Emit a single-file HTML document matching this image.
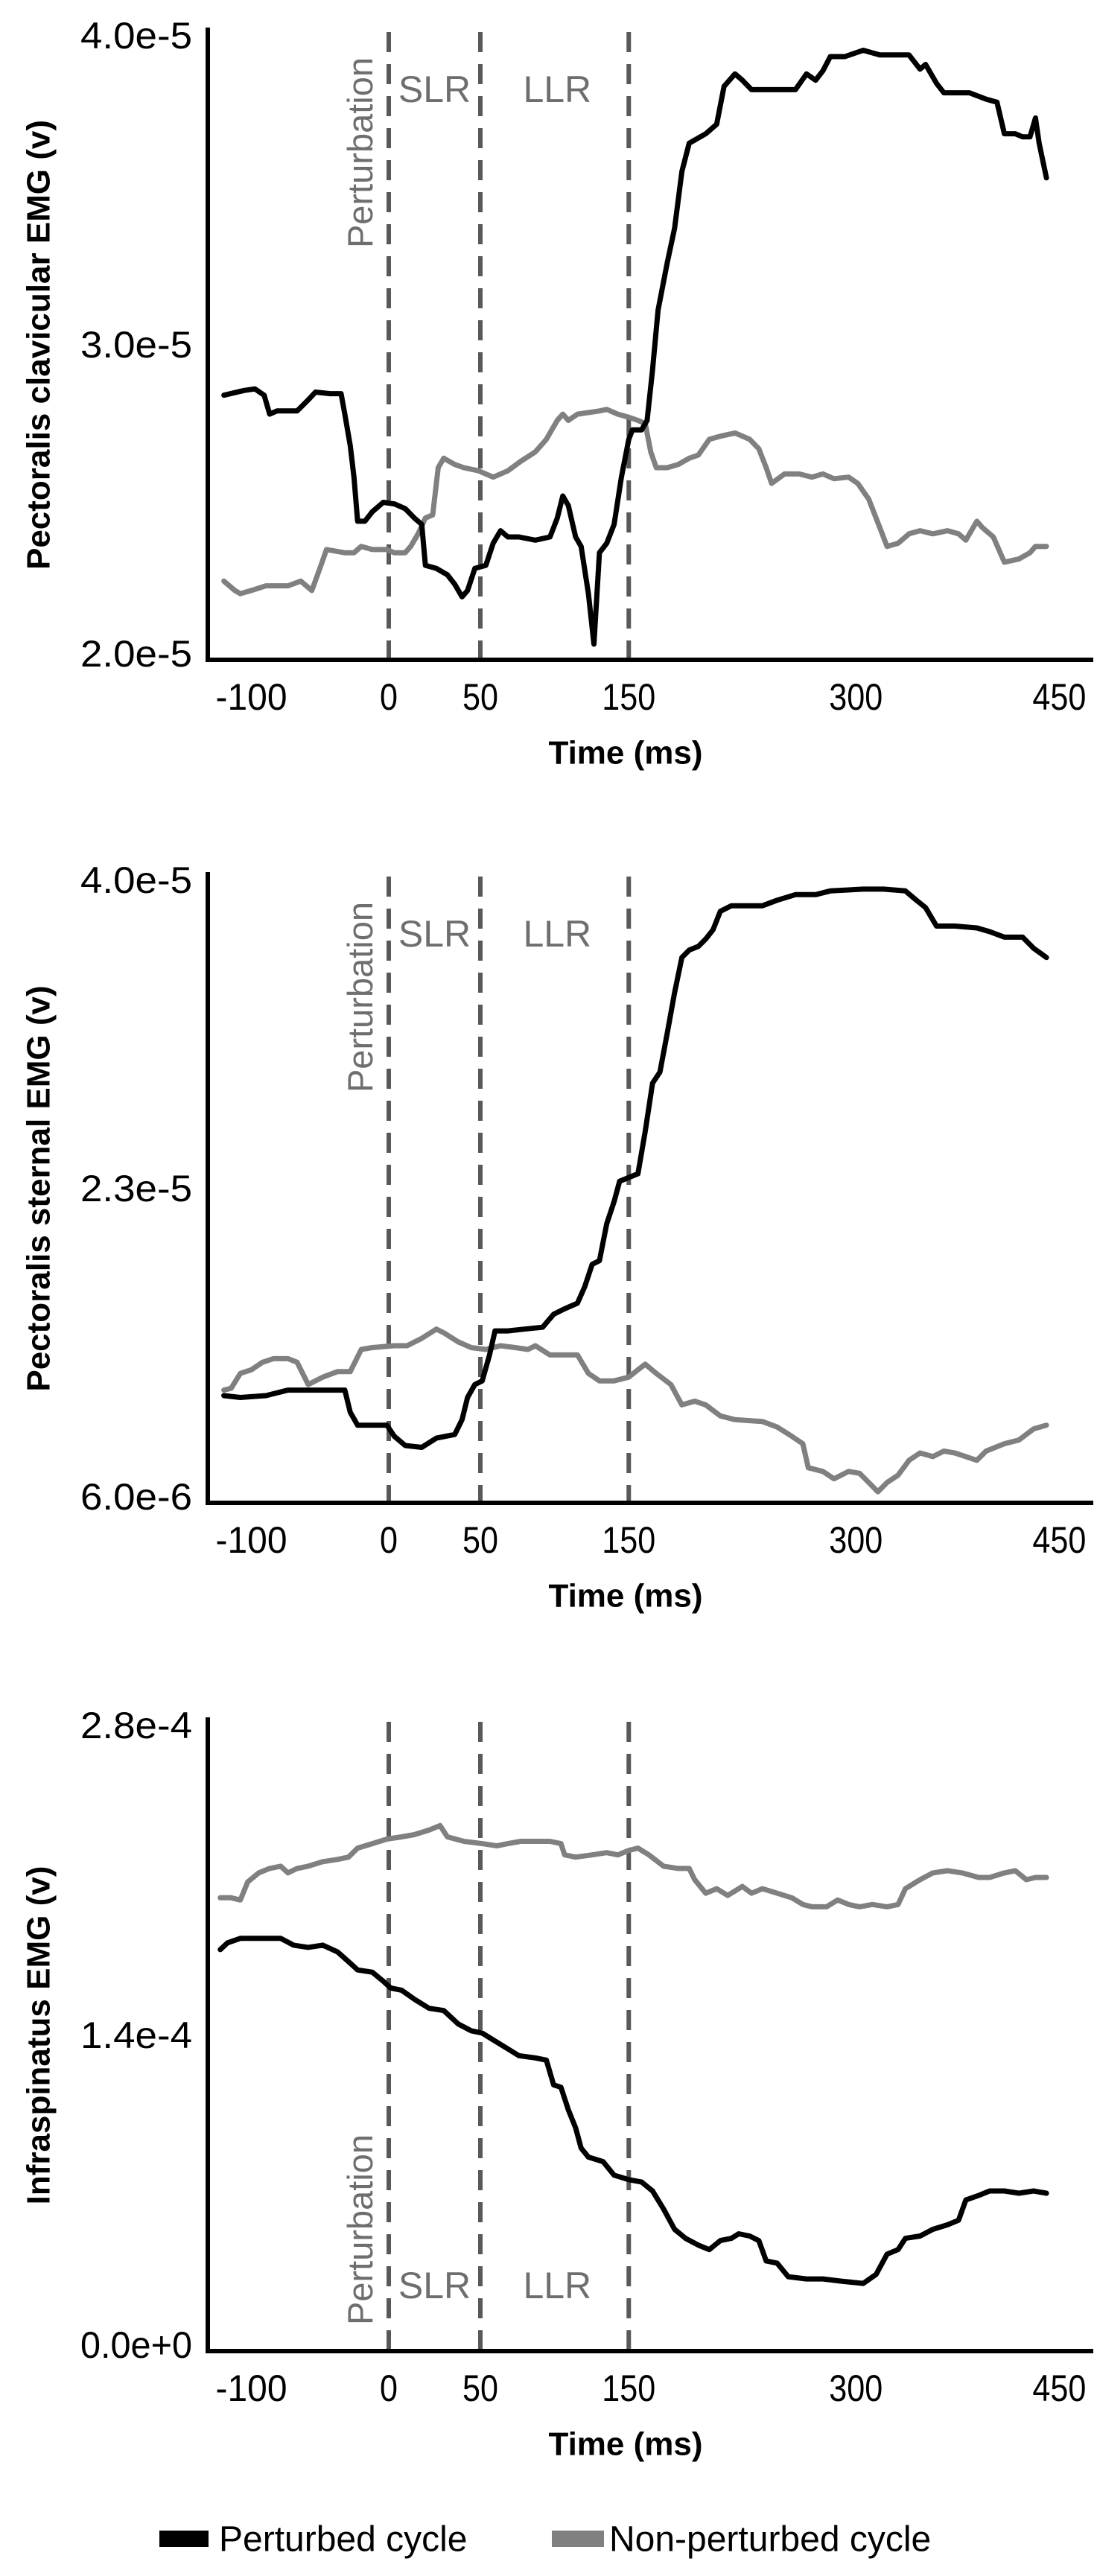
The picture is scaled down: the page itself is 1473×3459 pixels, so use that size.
<!DOCTYPE html>
<html><head><meta charset="utf-8"><style>
html,body{margin:0;padding:0;background:#fff;}
svg{display:block;font-family:"Liberation Sans",Arial,sans-serif;}
</style></head><body>
<svg id="fig" width="1473" height="3459" viewBox="0 0 1473 3459" xmlns="http://www.w3.org/2000/svg"></svg>
<script>
// ---- shared x data (time units on the plotted axis) ----
const tickVals = [-75, 0, 50, 131, 255, 366];
const tickLabels = ["-100", "0", "50", "150", "300", "450"];
const markerVals = [0, 50, 131];

// ---- Chart 1: Pectoralis clavicular ----
const c1Ticks = [2.0, 3.0, 4.0];
const c1TickLabels = ["2.0e-5", "3.0e-5", "4.0e-5"];
const c1BlackT = [-90,-79,-73,-68,-65,-61,-50,-44,-40,-32,
 -26,-24,-21,-19,-17,-13,-9,-3,3,9,
 14,18,20,26,32,36,40,43,47,53,
 57,61,65,71,80,88,92,95,98,102,
 105,109,112,115,119,123,127,131,133,138,
 141,144,147,152,156,160,164,167,173,179,
 183,189,193,198,212,222,228,233,237,241,
 249,259,268,276,284,290,293,299,303,317,
 326,332,336,342,346,350,353,355,359];
const c1BlackV = [2.84,2.855,2.86,2.84,2.78,2.79,2.79,2.825,2.85,2.845,
 2.845,2.78,2.68,2.58,2.44,2.44,2.47,2.50,2.495,2.48,
 2.45,2.43,2.30,2.29,2.27,2.24,2.20,2.22,2.29,2.30,
 2.37,2.41,2.39,2.39,2.38,2.39,2.45,2.52,2.49,2.39,
 2.36,2.21,2.05,2.34,2.37,2.43,2.58,2.70,2.73,2.73,
 2.76,2.92,3.11,3.26,3.37,3.55,3.64,3.65,3.67,3.70,
 3.82,3.86,3.84,3.81,3.81,3.81,3.86,3.84,3.87,3.915,
 3.915,3.935,3.92,3.92,3.92,3.875,3.89,3.83,3.80,3.80,
 3.78,3.77,3.67,3.67,3.66,3.66,3.72,3.64,3.53];
const c1GrayT = [-90,-84,-81,-75,-67,-55,-48,-42,-37,-34,
 -24,-19,-15,-9,-1,3,9,12,16,20,
 24,27,30,36,41,49,57,65,72,80,
 86,92,95,98,103,115,119,125,131,136,
 140,143,146,152,158,164,169,175,181,189,
 197,202,206,209,216,224,231,237,243,251,
 256,262,268,272,278,284,290,297,305,311,
 315,321,324,330,336,344,350,353,359];
const c1GrayV = [2.25,2.22,2.21,2.22,2.235,2.235,2.25,2.22,2.30,2.35,
 2.34,2.34,2.36,2.35,2.35,2.34,2.34,2.36,2.40,2.45,
 2.46,2.61,2.64,2.62,2.61,2.60,2.58,2.60,2.63,2.66,
 2.70,2.76,2.78,2.76,2.78,2.79,2.795,2.78,2.77,2.76,
 2.75,2.66,2.61,2.61,2.62,2.64,2.65,2.70,2.71,2.72,
 2.70,2.67,2.61,2.56,2.59,2.59,2.58,2.59,2.575,2.58,
 2.56,2.51,2.42,2.36,2.37,2.40,2.41,2.40,2.41,2.40,
 2.38,2.44,2.42,2.39,2.31,2.32,2.34,2.36,2.36];

// ---- Chart 2: Pectoralis sternal ----
const c2Ticks = [0.6, 2.3, 4.0];
const c2TickLabels = ["6.0e-6", "2.3e-5", "4.0e-5"];
const c2BlackT = [-90,-81,-67,-55,-44,-24,-21,-17,-9,-1,
 3,9,18,26,36,40,43,47,51,55,
 58,65,74,84,90,96,103,107,111,115,
 119,123,126,131,136,140,144,148,152,156,
 160,164,169,173,177,181,187,204,212,222,
 233,241,259,270,282,288,293,299,309,321,
 328,336,346,352,359];
const c2BlackV = [1.18,1.17,1.18,1.21,1.21,1.21,1.09,1.02,1.02,1.02,
 0.96,0.91,0.90,0.95,0.97,1.05,1.17,1.24,1.26,1.40,
 1.53,1.53,1.54,1.55,1.62,1.65,1.68,1.77,1.89,1.91,
 2.11,2.23,2.34,2.36,2.38,2.61,2.87,2.93,3.14,3.36,
 3.55,3.59,3.61,3.65,3.70,3.80,3.83,3.83,3.86,3.89,
 3.89,3.91,3.92,3.92,3.91,3.86,3.82,3.72,3.72,3.71,
 3.69,3.66,3.66,3.60,3.55];
const c2GrayT = [-90,-86,-81,-75,-69,-63,-55,-50,-44,-36,
 -28,-21,-15,-9,3,10,18,26,30,38,
 45,53,61,69,76,80,88,96,103,109,
 115,123,131,136,140,146,154,160,167,173,
 181,189,204,212,220,226,229,237,243,251,
 257,262,267,272,278,284,290,297,303,309,
 315,321,326,336,344,352,359];
const c2GrayV = [1.21,1.22,1.30,1.32,1.36,1.38,1.38,1.36,1.24,1.28,
 1.31,1.31,1.43,1.44,1.45,1.45,1.49,1.54,1.52,1.47,
 1.44,1.43,1.45,1.44,1.43,1.45,1.40,1.40,1.40,1.30,
 1.26,1.26,1.28,1.32,1.35,1.30,1.24,1.13,1.15,1.13,
 1.07,1.05,1.04,1.01,0.96,0.92,0.79,0.77,0.73,0.77,
 0.76,0.71,0.66,0.71,0.75,0.83,0.87,0.85,0.88,0.87,
 0.85,0.83,0.88,0.92,0.94,1.00,1.02];

// ---- Chart 3: Infraspinatus ----
const c3Ticks = [0, 1.4, 2.8];
const c3TickLabels = ["0.0e+0", "1.4e-4", "2.8e-4"];
const c3BlackT = [-92,-88,-81,-73,-67,-59,-52,-44,-36,-28,
 -21,-17,-9,-3,1,7,14,22,30,38,
 45,51,57,65,71,80,86,90,94,98,
 102,105,109,117,123,131,138,144,150,156,
 162,169,175,181,187,191,197,202,206,212,
 218,228,237,247,259,266,272,278,282,290,
 297,305,311,315,322,328,336,344,352,359];
const c3BlackV = [1.78,1.81,1.83,1.83,1.83,1.83,1.80,1.79,1.80,1.77,
 1.72,1.69,1.68,1.64,1.61,1.60,1.56,1.52,1.51,1.45,
 1.42,1.41,1.38,1.34,1.31,1.30,1.29,1.18,1.17,1.07,
 0.99,0.90,0.86,0.84,0.78,0.76,0.75,0.71,0.63,0.54,
 0.50,0.47,0.45,0.49,0.50,0.52,0.51,0.49,0.40,0.39,
 0.33,0.32,0.32,0.31,0.30,0.34,0.43,0.45,0.50,0.51,
 0.54,0.56,0.58,0.67,0.69,0.71,0.71,0.70,0.71,0.70];
const c3GrayT = [-92,-86,-81,-77,-71,-65,-59,-55,-50,-44,
 -36,-28,-22,-17,-9,-1,7,14,22,28,
 32,41,51,59,65,72,80,88,94,96,
 102,111,119,125,131,136,142,150,158,164,
 167,173,179,185,193,198,204,212,220,226,
 231,239,245,251,257,264,272,278,282,290,
 297,305,313,322,328,336,342,348,353,359];
const c3GrayV = [2.01,2.01,2.00,2.08,2.12,2.14,2.15,2.12,2.14,2.15,
 2.17,2.18,2.19,2.23,2.25,2.27,2.28,2.29,2.31,2.33,
 2.28,2.26,2.25,2.24,2.25,2.26,2.26,2.26,2.25,2.20,
 2.19,2.20,2.21,2.20,2.22,2.23,2.20,2.15,2.14,2.14,
 2.09,2.03,2.05,2.02,2.06,2.03,2.05,2.03,2.01,1.98,
 1.97,1.97,2.00,1.98,1.97,1.98,1.97,1.98,2.05,2.09,
 2.12,2.13,2.12,2.10,2.10,2.12,2.13,2.09,2.10,2.10];

const NS = "http://www.w3.org/2000/svg";
const svg = document.getElementById("fig");
function mk(tag, attrs, parent, text) {
  const el = document.createElementNS(NS, tag);
  for (const k in attrs) el.setAttribute(k, attrs[k]);
  if (text !== undefined) el.textContent = text;
  (parent || svg).appendChild(el);
  return el;
}
const X0 = 522, PXMS = 2.46;
function xScale(t) { return X0 + t * PXMS; }

function drawChart(cfg) {
  const g = mk("g", {});
  
  
  const yScale = v => cfg.bottom - (v - cfg.ymin) / (cfg.ymax - cfg.ymin) * (cfg.bottom - cfg.top);
  // marker dashed lines
  markerVals.forEach((m, i) => {
    const l = mk("line", {x1: xScale(m), x2: xScale(m), y1: cfg.top + 3, y2: cfg.bottom, stroke: "#595959", "stroke-width": 6, "stroke-dasharray": "27 16"}, g);
    
    
  });
  // annotation text
  const ay = cfg.annotTop ? cfg.top + 80 : cfg.bottom - 88;
  const pert = mk("text", {x: 0, y: 0, "font-size": 47, fill: "#6e6e6e", "text-anchor": cfg.annotTop ? "end" : "start",
    transform: `translate(${xScale(0) - 22},${cfg.annotTop ? cfg.top + 37 : cfg.bottom - 35}) rotate(-90)`}, g, "Perturbation");
  
  
  const slr = mk("text", {x: xScale(25), y: ay, "font-size": 50, fill: "#6e6e6e", "text-anchor": "middle", "dominant-baseline": "central"}, g, "SLR");
  
  
  const llr = mk("text", {x: xScale(92), y: ay, "font-size": 50, fill: "#6e6e6e", "text-anchor": "middle", "dominant-baseline": "central"}, g, "LLR");
  
  
  // series
  const series = [[cfg.grayT, cfg.grayV, "#808080", "non-perturbed-line"], [cfg.blackT, cfg.blackV, "#000000", "perturbed-line"]];
  series.forEach(s => {
    const n = Math.min(s[0].length, s[1].length);
    let d = "";
    for (let i = 0; i < n; i++) d += (i ? "L" : "M") + xScale(s[0][i]).toFixed(1) + "," + yScale(s[1][i]).toFixed(1);
    const p = mk("path", {d: d, fill: "none", stroke: s[2], "stroke-width": 7, "stroke-linejoin": "round", "stroke-linecap": "round"}, g);
    
    
  });
  // axes
  const ya = mk("line", {x1: 279, x2: 279, y1: cfg.top - 3, y2: cfg.bottom + 3, stroke: "#000", "stroke-width": 6}, g);
  
  
  const xa = mk("line", {x1: 276, x2: 1468, y1: cfg.bottom, y2: cfg.bottom, stroke: "#000", "stroke-width": 6}, g);
  
  
  // y ticks
  cfg.yTicks.forEach((v, i) => {
    let yy = yScale(v);
    if (i === cfg.yTicks.length - 1) yy += 8;
    if (i === 0) yy -= 8;
    const t = mk("text", {x: 258, y: yy, "font-size": 50, fill: "#000", "text-anchor": "end", "dominant-baseline": "central", textLength: 150, lengthAdjust: "spacingAndGlyphs"}, g, cfg.yTickLabels[i]);
    
    
  });
  // x ticks
  tickVals.forEach((v, i) => {
    const lab = tickLabels[i];
    const t = mk("text", {x: xScale(v), y: cfg.bottom + 50, "font-size": 50, fill: "#000", "text-anchor": "middle", "dominant-baseline": "central", textLength: lab.length * 24, lengthAdjust: "spacingAndGlyphs"}, g, lab);
    
    
  });
  const xt = mk("text", {x: 840, y: cfg.bottom + 125, "font-size": 44, "font-weight": "bold", fill: "#000", "text-anchor": "middle", "dominant-baseline": "central"}, g, "Time (ms)");
  
  
  const my = (cfg.top + cfg.bottom) / 2;
  const yt = mk("text", {x: 0, y: 0, "font-size": 44, "font-weight": "bold", fill: "#000", "text-anchor": "middle", "dominant-baseline": "central", transform: `translate(52,${my}) rotate(-90)`}, g, cfg.yTitle);
  
  
}

drawChart({name: "pectoralis-clavicular-chart", top: 40, bottom: 886, ymin: 2.0, ymax: 4.0, yTicks: c1Ticks, yTickLabels: c1TickLabels,
  blackT: c1BlackT, blackV: c1BlackV, grayT: c1GrayT, grayV: c1GrayV, annotTop: true, yTitle: "Pectoralis clavicular EMG (v)"});
drawChart({name: "pectoralis-sternal-chart", top: 1174, bottom: 2018, ymin: 0.6, ymax: 4.0, yTicks: c2Ticks, yTickLabels: c2TickLabels,
  blackT: c2BlackT, blackV: c2BlackV, grayT: c2GrayT, grayV: c2GrayV, annotTop: true, yTitle: "Pectoralis sternal EMG (v)"});
drawChart({name: "infraspinatus-chart", top: 2309, bottom: 3157, ymin: 0, ymax: 2.8, yTicks: c3Ticks, yTickLabels: c3TickLabels,
  blackT: c3BlackT, blackV: c3BlackV, grayT: c3GrayT, grayV: c3GrayV, annotTop: false, yTitle: "Infraspinatus EMG (v)"});

// legend
const lg = mk("g", {});


const r1 = mk("rect", {x: 214, y: 3398, width: 66, height: 22, fill: "#000"}, lg);


const t1 = mk("text", {x: 294, y: 3410, "font-size": 48, fill: "#000", "dominant-baseline": "central"}, lg, "Perturbed cycle");


const r2 = mk("rect", {x: 741, y: 3398, width: 70, height: 22, fill: "#808080"}, lg);


const t2 = mk("text", {x: 818, y: 3410, "font-size": 48, fill: "#000", "dominant-baseline": "central"}, lg, "Non-perturbed cycle");


</script>
</body></html>
